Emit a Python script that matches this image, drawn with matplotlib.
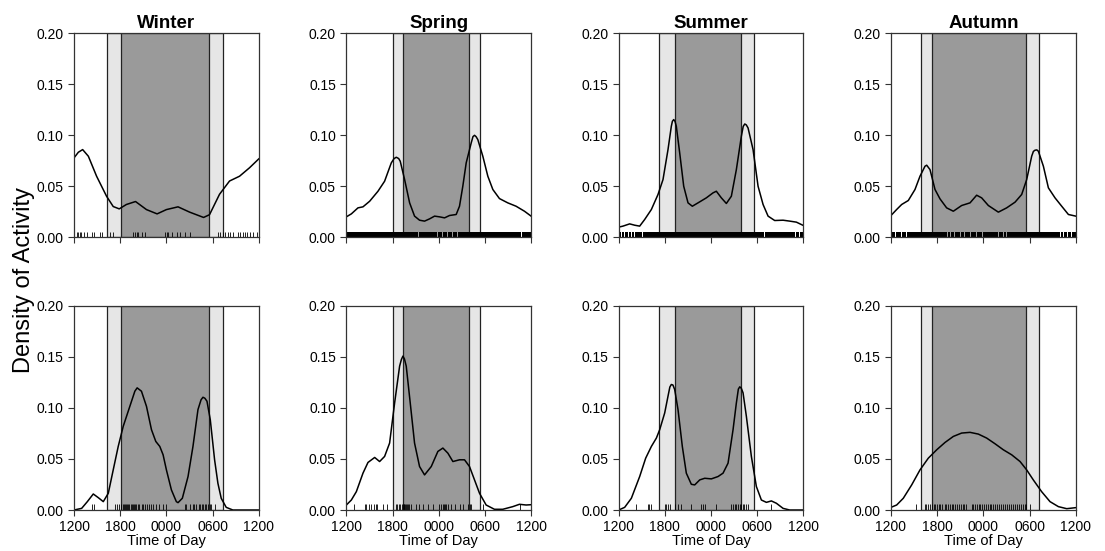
import numpy as np
import matplotlib.pyplot as plt

plt.rcParams['font.family'] = ['Liberation Sans', 'DejaVu Sans']

seasons = ['Winter', 'Spring', 'Summer', 'Autumn']

# hours after 1200: twilight start, night start, night end, twilight end
twi_start = [4.24, 6.05, 5.28, 3.94]
night_start = [6.10, 7.35, 7.32, 5.28]
night_end = [17.47, 15.91, 15.94, 17.59]
twi_end = [19.29, 17.30, 17.54, 19.19]

tick_pos = [0, 6, 12, 18, 24]
tick_labels = ['1200', '1800', '0000', '0600', '1200']

# ---- top row densities ----
winter_top_x = [0, 0.56, 1.12, 1.86, 2.93, 4.23, 5.09, 5.87, 6.8, 7.99, 9.41, 10.79, 12.0, 13.51,
                15.02, 16.83, 17.6, 18.9, 20.2, 21.5, 22.8, 24]
winter_top_y = [0.0777, 0.0832, 0.0858, 0.0793, 0.0597, 0.040, 0.030, 0.0277, 0.032, 0.0349,
                0.027, 0.0228, 0.027, 0.0297, 0.0245, 0.0193, 0.022, 0.042, 0.055, 0.0597, 0.068,
                0.0767]

spring_top_x = [0, 0.65, 1.51, 2.16, 3.03, 4.11, 4.97, 5.84, 6.2, 6.49, 6.8, 7.0, 7.57, 8.22,
                8.86, 9.51, 10.16, 10.81, 11.46, 12.1, 12.76, 13.4, 14.27, 14.7, 15.13, 15.57,
                16.22, 16.45, 16.65, 16.85, 17.08, 17.73, 18.38, 19.03, 19.89, 20.97, 22.05,
                23.14, 24]
spring_top_y = [0.0199, 0.0228, 0.0287, 0.0297, 0.0352, 0.045, 0.0548, 0.0728, 0.077, 0.0783,
                0.077, 0.0744, 0.0564, 0.0336, 0.0206, 0.0166, 0.0157, 0.0179, 0.0206, 0.0199,
                0.0189, 0.0212, 0.0222, 0.0303, 0.0499, 0.0728, 0.0923, 0.0985, 0.0998, 0.0985,
                0.0956, 0.0793, 0.0597, 0.0467, 0.0378, 0.0336, 0.0303, 0.0254, 0.0206]

summer_top_x = [0, 0.56, 1.43, 2.08, 2.73, 3.38, 4.25, 5.11, 5.76, 6.41, 6.84, 6.98, 7.15, 7.32,
                7.49, 7.93, 8.45, 9.01, 9.57, 10.31, 11.39, 12.26, 12.69, 13.34, 13.99, 14.64,
                15.29, 15.94, 16.18, 16.38, 16.58, 16.81, 17.46, 18.11, 18.76, 19.41, 20.27,
                21.36, 22.22, 23.09, 24]
summer_top_y = [0.0098, 0.0108, 0.013, 0.0117, 0.0108, 0.0173, 0.0271, 0.0418, 0.0564, 0.0858,
                0.1086, 0.1135, 0.1152, 0.1135, 0.1086, 0.0825, 0.0499, 0.0336, 0.0303, 0.0336,
                0.0385, 0.0434, 0.045, 0.0385, 0.033, 0.0401, 0.0662, 0.0989, 0.1085, 0.1109,
                0.110, 0.107, 0.0858, 0.0499, 0.032, 0.0206, 0.0163, 0.0166, 0.0157, 0.0147,
                0.0114]

autumn_top_x = [0, 0.74, 1.39, 2.25, 3.12, 3.77, 4.42, 4.64, 5.07, 5.72, 6.37, 7.23, 8.1, 9.18,
                10.27, 11.13, 11.78, 12.65, 13.95, 15.03, 16.12, 16.98, 17.63, 18.28, 18.5,
                18.71, 18.95, 19.15, 19.8, 20.45, 21.31, 22.18, 23.05, 24]
autumn_top_y = [0.0212, 0.0271, 0.032, 0.0359, 0.0467, 0.0597, 0.0695, 0.0705, 0.0662, 0.0467,
                0.0375, 0.0287, 0.0254, 0.031, 0.0336, 0.0411, 0.0385, 0.031, 0.0245, 0.0287,
                0.0343, 0.0418, 0.0564, 0.0793, 0.084, 0.0852, 0.0855, 0.0842, 0.0695, 0.0483,
                0.0385, 0.0303, 0.0222, 0.0206]

# ---- bottom row densities ----
winter_bot_x = [0, 0.99, 1.73, 2.5, 3.15, 3.8, 4.45, 5.09, 5.74, 6.39, 7.25, 7.9, 8.2, 8.76,
                9.41, 10.06, 10.62, 11.14, 11.57, 12.0, 12.65, 13.29, 13.51, 14.07, 14.81, 15.45,
                16.1, 16.5, 16.75, 17.0, 17.27, 17.7, 18.26, 18.69, 19.12, 19.77, 20.63, 24]
winter_bot_y = [0.0, 0.0016, 0.0082, 0.0157, 0.0121, 0.0082, 0.0164, 0.0393, 0.0623, 0.082,
                0.1016, 0.1164, 0.1197, 0.1164, 0.1016, 0.0787, 0.0672, 0.0623, 0.0541, 0.0393,
                0.0197, 0.0082, 0.0072, 0.0115, 0.0328, 0.0623, 0.0984, 0.108, 0.1105, 0.1095,
                0.1066, 0.0885, 0.0492, 0.0262, 0.0115, 0.0026, 0.0, 0.0]

spring_bot_x = [0, 0.65, 1.3, 2.16, 2.81, 3.68, 4.32, 4.97, 5.62, 6.27, 6.92, 7.15, 7.35, 7.55,
                7.78, 8.3, 8.86, 9.51, 10.16, 11.03, 11.89, 12.54, 13.19, 13.84, 14.7, 15.35,
                16.0, 16.65, 17.3, 18.16, 19.24, 20.32, 21.62, 22.49, 23.35, 24]
spring_bot_y = [0.0049, 0.0098, 0.018, 0.0361, 0.0466, 0.0515, 0.0475, 0.0525, 0.0656, 0.1049,
                0.141, 0.1475, 0.1508, 0.148, 0.141, 0.1049, 0.0656, 0.0426, 0.0344, 0.0426,
                0.0574, 0.0607, 0.0557, 0.0475, 0.0492, 0.0492, 0.0426, 0.0295, 0.0164, 0.0049,
                0.0007, 0.0007, 0.0033, 0.0056, 0.0049, 0.0052]

summer_bot_x = [0, 0.78, 1.65, 2.73, 3.51, 4.25, 4.9, 5.33, 5.98, 6.41, 6.65, 6.84, 7.05, 7.28,
                7.71, 8.27, 8.79, 9.44, 9.88, 10.53, 11.18, 12.04, 12.91, 13.56, 14.21, 14.86,
                15.29, 15.55, 15.73, 15.92, 16.16, 16.59, 17.24, 17.89, 18.54, 19.19, 19.84,
                20.49, 21.36, 22.22, 24]
summer_bot_y = [0.0, 0.0026, 0.0115, 0.0328, 0.0508, 0.0623, 0.0705, 0.0787, 0.0951, 0.1115,
                0.1205, 0.123, 0.1225, 0.118, 0.0984, 0.0623, 0.0361, 0.0252, 0.0246, 0.0295,
                0.0311, 0.0305, 0.0328, 0.0361, 0.0459, 0.0787, 0.1049, 0.1185, 0.1207, 0.1195,
                0.1148, 0.0918, 0.0525, 0.023, 0.0098, 0.0075, 0.0089, 0.0066, 0.0016, 0.0, 0.0]

autumn_bot_x = [0, 0.74, 1.6, 2.69, 3.77, 4.85, 5.94, 7.02, 8.1, 9.18, 10.27, 11.35, 12.43,
                13.52, 14.6, 15.68, 16.77, 17.63, 18.49, 19.57, 20.66, 21.75, 22.83, 24]
autumn_bot_y = [0.0026, 0.0049, 0.0115, 0.0246, 0.0393, 0.0508, 0.059, 0.0662, 0.0721, 0.0754,
                0.0761, 0.0744, 0.0705, 0.0649, 0.059, 0.0541, 0.0475, 0.0393, 0.0295, 0.018,
                0.0082, 0.0033, 0.0013, 0.0023]

# ---- rugs: sparse panels as single records ----
winter_top_rug = [0.43, 0.56, 0.74, 0.86, 1.25, 1.73, 2.29, 2.55, 3.33, 3.59, 4.71, 5.06, 7.70,
                  7.91, 8.13, 8.35, 8.86, 9.21, 11.8, 12.02, 12.24, 12.67, 13.32, 13.79, 14.4,
                  15.05, 18.72, 18.94, 19.37, 19.67, 20.02, 20.32, 20.67, 21.32, 21.53, 21.97,
                  22.18, 22.53, 22.83, 23.26, 23.83]
winter_bot_rug = [2.29, 2.55, 5.3, 5.58, 5.84, 6.1, 6.3, 6.45, 6.6, 6.75, 6.9, 7.05, 7.2, 7.35,
                  7.5, 7.65, 7.8, 7.95, 8.1, 8.3, 8.5, 8.8, 9.0, 9.25, 9.5, 9.75, 10.0, 10.3,
                  10.6, 11.1, 11.5, 11.9, 14.4, 14.6, 15.0, 15.4, 15.6, 15.8, 16.2, 16.4, 16.6,
                  16.8, 17.0, 17.2, 17.4, 17.6, 17.8, 18.25]
spring_bot_rug = [0.95, 2.38, 2.6, 2.95, 3.25, 3.55, 3.8, 4.0, 4.75, 5.28, 6.4, 6.6, 6.8, 7.0,
                  7.2, 7.35, 7.45, 7.55, 7.65, 7.75, 7.85, 8.0, 8.2, 8.4, 9.1, 9.5, 9.95, 10.6,
                  11.2, 12.1, 12.3, 12.5, 12.65, 12.8, 13.0, 13.2, 13.6, 14.05, 14.7, 15.1, 15.8,
                  16.0, 16.2, 17.7, 22.5]
summer_bot_rug = [2.2, 3.8, 4.0, 4.25, 5.98, 6.2, 6.4, 6.63, 7.3, 7.7, 8.1, 9.44, 10.7, 10.95,
                  11.2, 12.7, 14.6, 14.8, 15.05, 15.25, 15.45, 15.7, 15.9, 16.1, 16.3, 16.55,
                  16.8, 19.8]
autumn_bot_rug = [3.25, 4.4, 4.6, 4.85, 5.1, 5.3, 5.55, 5.75, 6.0, 6.2, 6.4, 6.6, 7.0, 7.2, 7.45,
                  7.7, 7.9, 8.1, 8.35, 8.55, 8.8, 9.05, 9.3, 9.55, 9.8, 10.5, 10.7, 10.95, 11.2,
                  11.4, 11.6, 11.85, 12.1, 12.3, 12.55, 12.8, 13.05, 13.3, 13.5, 13.75, 14.0,
                  14.3, 14.6, 14.85, 15.1, 15.35, 15.6, 15.85, 16.1, 16.35, 16.6, 16.85, 17.1,
                  17.35, 17.6, 18.0]

# dense panels: rug is a solid band, these are the visible gaps in it
spring_top_gaps = [8.4, 9.35, 10.35, 11.0, 11.8, 12.5, 13.15, 13.8, 14.4, 22.75]
summer_top_gaps = [0.35, 0.8, 1.25, 1.7, 2.1, 2.65, 3.1, 18.95, 23.0, 23.45]
autumn_top_gaps = [0.6, 1.4, 2.0, 7.3, 7.7, 8.3, 9.05, 9.6, 10.3, 11.1, 11.9, 12.6, 13.5, 13.95,
                   14.6, 15.0, 22.0, 22.4, 22.9, 23.5]

curves = [
    [(winter_top_x, winter_top_y), (spring_top_x, spring_top_y),
     (summer_top_x, summer_top_y), (autumn_top_x, autumn_top_y)],
    [(winter_bot_x, winter_bot_y), (spring_bot_x, spring_bot_y),
     (summer_bot_x, summer_bot_y), (autumn_bot_x, autumn_bot_y)],
]
rugs = [[winter_top_rug, None, None, None],
        [winter_bot_rug, spring_bot_rug, summer_bot_rug, autumn_bot_rug]]
gaps = [[None, spring_top_gaps, summer_top_gaps, autumn_top_gaps],
        [None, None, None, None]]

rug_h = 0.0055
gap_w = 0.1
edge = '#222222'

fig, axes = plt.subplots(2, 4, figsize=(11.05, 5.51), dpi=100)
fig.subplots_adjust(left=0.067, right=0.9735, top=0.940, bottom=0.0744,
                    wspace=0.474, hspace=0.337)

for r in range(2):
    for c in range(4):
        ax = axes[r, c]
        ax.axvspan(twi_start[c], twi_end[c], facecolor='#e6e6e6', edgecolor=edge,
                   lw=0.9, zorder=0)
        ax.axvspan(night_start[c], night_end[c], facecolor='#9a9a9a', edgecolor=edge,
                   lw=0.9, zorder=1)
        xs, ys = curves[r][c]
        ax.plot(xs, ys, color='black', lw=1.1, zorder=3, solid_joinstyle='round')

        if rugs[r][c] is not None:
            ax.vlines(rugs[r][c], 0, rug_h, color='black', lw=0.6, zorder=4)
        if gaps[r][c] is not None:
            g = sorted(gaps[r][c])
            starts = [0] + [v + gap_w / 2 for v in g]
            ends = [v - gap_w / 2 for v in g] + [24]
            ax.broken_barh([(s, e - s) for s, e in zip(starts, ends)], (0, rug_h),
                           facecolor='black', zorder=4)

        ax.set_xlim(0, 24)
        ax.set_ylim(0, 0.2)
        ax.set_xticks(tick_pos)
        ax.set_yticks([0, 0.05, 0.10, 0.15, 0.20])
        ax.set_yticklabels(['0.00', '0.05', '0.10', '0.15', '0.20'])
        if r == 1:
            ax.set_xticklabels(tick_labels)
            ax.set_xlabel('Time of Day', fontsize=10.5, labelpad=0)
        else:
            ax.set_xticklabels([])
            ax.set_title(seasons[c], fontsize=13.5, fontweight='bold', pad=4)
        ax.tick_params(direction='out', length=4.5, width=0.8, labelsize=10,
                       color='#333333', pad=3)
        for s in ax.spines.values():
            s.set_linewidth(0.9)
            s.set_color('#333333')
            s.set_zorder(5)

fig.text(24 / 1105, 1 - 280 / 551, 'Density of Activity', rotation=90,
         ha='center', va='center', fontsize=17)

fig.savefig('out.png', dpi=100)
